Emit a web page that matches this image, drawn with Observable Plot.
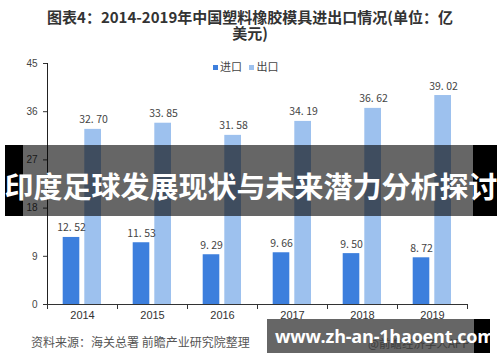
<!DOCTYPE html>
<html><head><meta charset="utf-8">
<script src="https://cdn.jsdelivr.net/npm/d3@7"></script>
<script src="https://cdn.jsdelivr.net/npm/@observablehq/plot@0.6"></script>
<style>
body{margin:0;background:#fff;}
#wrap{position:relative;width:500px;height:362px;overflow:hidden;font-family:"Noto Sans CJK SC",sans-serif;background:#fff;}
#chart{position:absolute;left:0;top:0;}
.abs{position:absolute;}
#title{left:0;top:9px;width:500px;text-align:center;font-size:15px;font-weight:700;line-height:16px;color:#333;}
#legend{left:213px;top:58px;font-size:11px;color:#444;white-space:nowrap;line-height:16px;}
#legend span.sw{display:inline-block;width:5px;height:5px;margin-right:2px;vertical-align:middle;position:relative;top:-1px;}
#source{left:31px;top:333px;font-size:12px;color:#555;white-space:nowrap;line-height:18px;}
#app{left:368px;top:334px;font-size:11.5px;color:#999;white-space:nowrap;line-height:18px;}
#b1l{left:5px;top:145px;width:18px;height:71px;background:#000;}
#b1m{left:23px;top:145px;width:450px;height:71px;background:rgba(0,0,0,0.6);}
#b1r{left:473px;top:145px;width:24px;height:71px;background:#000;}
#b1t{left:0;top:160px;width:502px;height:50px;line-height:50px;text-align:center;color:#fff;font-size:29px;font-weight:700;white-space:nowrap;}
#b2m{left:267px;top:319px;width:207px;height:34px;background:rgba(0,0,0,0.6);}
#b2r{left:474px;top:319px;width:16px;height:34px;background:#000;}
#b2t{left:275px;top:319px;height:34px;line-height:34px;color:#fff;font-size:18px;font-weight:700;font-family:"Open Sans","DejaVu Sans",sans-serif;white-space:nowrap;letter-spacing:-0.2px;}
</style></head>
<body><div id="wrap">
<div id="chart"></div>
<div id="title" class="abs">图表4：2014-2019年中国塑料橡胶模具进出口情况(单位：亿<br>美元)</div>
<div id="legend" class="abs"></div>
<div id="source" class="abs">资料来源：海关总署 前瞻产业研究院整理</div>
<div id="app" class="abs">@前瞻经济学人APP</div>
<div id="b1l" class="abs"></div><div id="b1m" class="abs"></div><div id="b1r" class="abs"></div>
<div id="b1t" class="abs">印度足球发展现状与未来潜力分析探讨</div>
<div id="b2m" class="abs"></div><div id="b2r" class="abs"></div>
<div id="b2t" class="abs">www.zh-an-1haoent.com</div>
</div>
<script>
const years = ["2014", "2015", "2016", "2017", "2018", "2019"];
const imports = [12.52, 11.53, 9.29, 9.66, 9.50, 8.72];
const exports = [32.70, 33.85, 31.58, 34.19, 36.62, 39.02];
const yTicks = [0, 9, 18, 27, 36, 45];
const seriesNames = ["进口", "出口"];
const impColor = "#3d7fdd";
const expColor = "#9dc1ee";

const data = years.map((y, i) => ({year: y, imp: imports[i], exp: exports[i]}));
const fmt = v => v.toFixed(2).replace(".", ". ");

document.getElementById("legend").innerHTML =
  `<span class="sw" style="background:${impColor}"></span>${seriesNames[0]}&nbsp;&nbsp;&nbsp;` +
  `<span class="sw" style="background:${expColor}"></span>${seriesNames[1]}`;

const lbl = {fontSize: 10.5, fill: "#444", fontFamily: "Noto Sans CJK SC, sans-serif", lineAnchor: "bottom"};
const plot = Plot.plot({
  width: 500, height: 362,
  marginTop: 63, marginBottom: 58, marginLeft: 47, marginRight: 33,
  style: {fontFamily: "Liberation Sans, Arial, sans-serif", background: "transparent"},
  x: {domain: years, padding: 0, axis: null},
  y: {domain: [0, 45], axis: null},
  marks: [
    Plot.barY(data, {x: "year", y: "imp", fill: impColor, insetLeft: 15.7, insetRight: 37.7}),
    Plot.barY(data, {x: "year", y: "exp", fill: expColor, insetLeft: 37.3, insetRight: 16}),
    Plot.text(data, {x: "year", y: "imp", text: d => fmt(d.imp), dx: -11, dy: -6, ...lbl}),
    Plot.text(data, {x: "year", y: "exp", text: d => fmt(d.exp), dx: 11, dy: -6, ...lbl}),
    Plot.ruleY([0], {stroke: "#333"}),
    Plot.ruleX([years[0]], {dx: -35, stroke: "#222"}),
    Plot.axisY(yTicks, {tickSize: 4, tickPadding: 6, fontSize: 10, color: "#444", stroke: "#333", label: null}),
    Plot.axisX({tickSize: 5, text: null, dx: -35, stroke: "#333", label: null}),
    Plot.axisX({tickSize: 5, text: null, dx: 35, stroke: "#333", label: null}),
    Plot.axisX({tickSize: 0, tickPadding: 7, fontSize: 11, color: "#333", label: null})
  ]
});
document.getElementById("chart").appendChild(plot);
</script>
</body></html>
